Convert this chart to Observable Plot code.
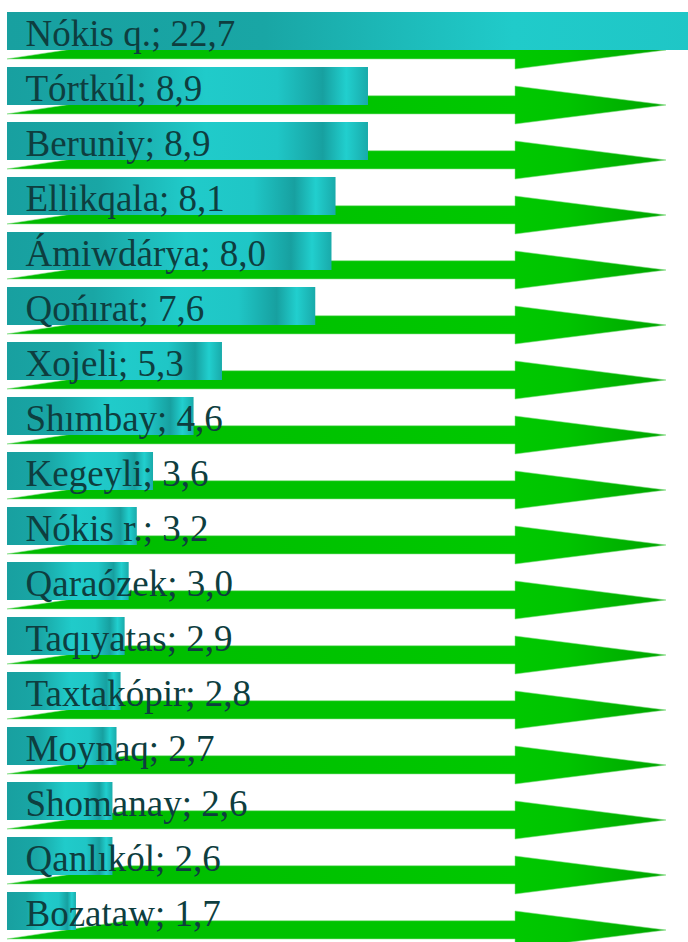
<!DOCTYPE html>
<html>
<head>
<meta charset="utf-8">
<script src="https://cdn.jsdelivr.net/npm/d3@7"></script>
<script src="https://cdn.jsdelivr.net/npm/@observablehq/plot@0.6"></script>
<style>
  html, body { margin: 0; padding: 0; background: #ffffff; }
  #chart svg { display: block; }
</style>
</head>
<body>
<div id="chart"></div>
<script>
const districts = ["Nókis q.", "Tórtkúl", "Beruniy", "Ellikqala", "Ámiwdárya", "Qońırat", "Xojeli", "Shımbay", "Kegeyli", "Nókis r.", "Qaraózek", "Taqıyatas", "Taxtakópir", "Moynaq", "Shomanay", "Qanlıkól", "Bozataw"];
const shares = [22.7, 8.9, 8.9, 8.1, 8.0, 7.6, 5.3, 4.6, 3.6, 3.2, 3.0, 2.9, 2.8, 2.7, 2.6, 2.6, 1.7];

const data = districts.map((d, i) => ({
  name: d,
  value: shares[i],
  label: `${d}; ${shares[i].toFixed(1).replace(".", ",")}`
}));

const W = 688, H = 942;

// Decorative green arrow behind every row, positioned from the y band scale
function arrowRender(index, scales, values, dimensions) {
  const g = d3.create("svg:g");
  const bw = scales.y.bandwidth();
  const x0 = dimensions.marginLeft;
  const xEnd = dimensions.width - 22;
  const xHead = dimensions.width - 173;
  for (const i of index) {
    const top = scales.y(data[i].name);
    const cy = top + bw;
    const sTop = cy - 0.245 * bw;
    const sBot = cy + 0.235 * bw;
    const hTop = cy - 0.5 * bw;
    const hBot = cy + 0.5 * bw;
    const pts = [
      [x0, sBot], [x0 + 120, sTop], [xHead, sTop], [xHead, hTop],
      [xEnd, cy], [xHead, hBot], [xHead, sBot]
    ];
    g.append("polygon")
      .attr("points", pts.map(p => p.join(",")).join(" "))
      .attr("fill", "url(#arrowGrad)")
      .attr("stroke", "#7fdc7f")
      .attr("stroke-width", 0.8)
      .attr("stroke-opacity", 0.7);
  }
  return g.node();
}

const chart = Plot.plot({
  width: W,
  height: H,
  marginLeft: 7,
  marginRight: 0,
  marginTop: 12,
  marginBottom: 9,
  style: { background: "#ffffff", overflow: "hidden" },
  x: { domain: [0, 681 / 40.56], axis: null },
  y: { domain: districts, axis: null, paddingInner: 0.312, paddingOuter: 0, align: 0 },
  marks: [
    () => {
      const defs = d3.create("svg:defs");
      const ag = defs.append("linearGradient").attr("id", "arrowGrad")
        .attr("x1", 0).attr("x2", 1).attr("y1", 0).attr("y2", 0);
      [[0, "#00ba00"], [0.77, "#00c800"], [0.85, "#00c400"], [1, "#00a400"]]
        .forEach(([o, c]) => ag.append("stop").attr("offset", o).attr("stop-color", c));
      const bg = defs.append("linearGradient").attr("id", "barGrad")
        .attr("x1", 0).attr("x2", 1).attr("y1", 0).attr("y2", 0);
      [[0, "#18a0a0"], [0.28, "#19a6a5"], [0.55, "#20cbca"], [0.75, "#1fc6c6"],
       [0.875, "#17a0a0"], [0.94, "#21cfce"], [1, "#19aaaa"]]
        .forEach(([o, c]) => bg.append("stop").attr("offset", o).attr("stop-color", c));
      return defs.node();
    },
    Plot.barX(data, { x: "value", y: "name", render: arrowRender }),
    Plot.barX(data, { x: "value", y: "name", fill: "url(#barGrad)", clip: true }),
    Plot.text(data, {
      x: 0, y: "name", text: "label",
      textAnchor: "start", lineAnchor: "bottom",
      dx: 18, dy: 14,
      fill: "#0e3e3f",
      fontSize: 37,
      fontFamily: "Liberation Serif, Times New Roman, serif"
    })
  ]
});

document.getElementById("chart").appendChild(chart);
</script>
</body>
</html>
